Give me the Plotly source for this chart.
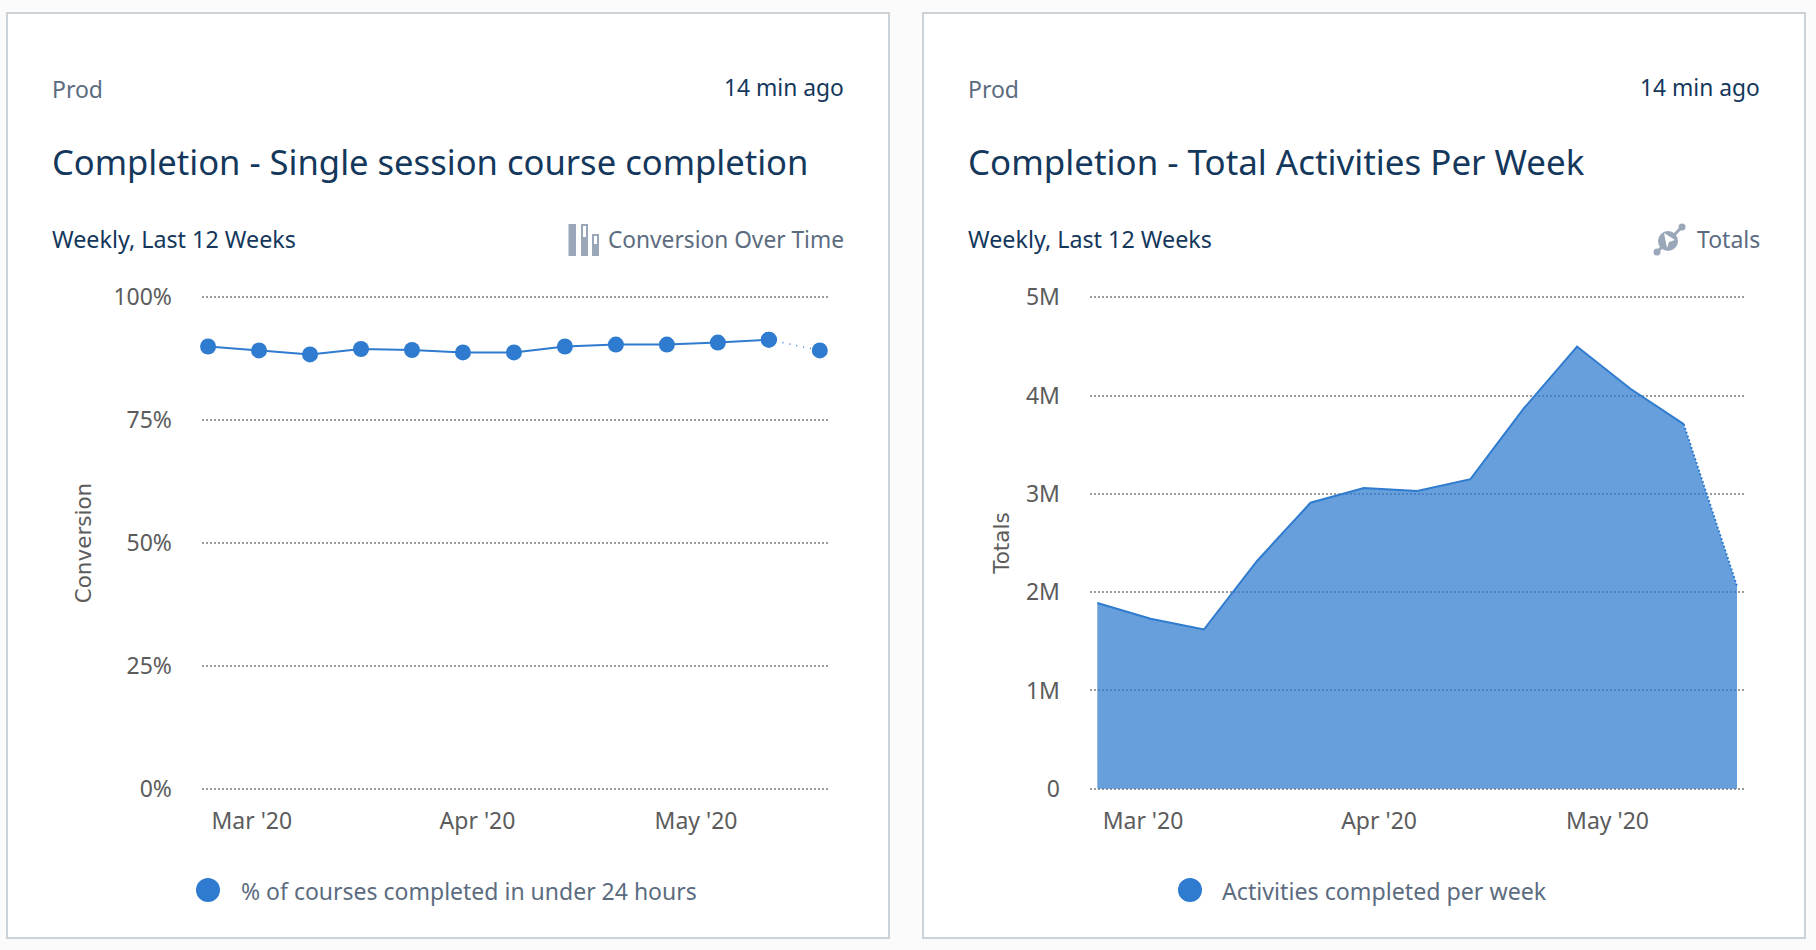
import plotly.graph_objects as go

W, H = 1816, 950
FONT = "Noto Sans"

weeks = ["2020-02-24", "2020-03-02", "2020-03-09", "2020-03-16", "2020-03-23", "2020-03-30", "2020-04-06",
         "2020-04-13", "2020-04-20", "2020-04-27", "2020-05-04", "2020-05-11", "2020-05-18"]
conversion = [90.0, 89.2, 88.4, 89.5, 89.3, 88.8, 88.8, 90.0, 90.4, 90.4, 90.8, 91.4, 89.2]
totals = [1.89e6, 1.73e6, 1.62e6, 2.32e6, 2.91e6, 3.06e6, 3.03e6, 3.15e6, 3.87e6, 4.50e6, 4.07e6, 3.71e6, 2.06e6]
month_ticks = ["2020-03-01", "2020-04-01", "2020-05-01"]
month_labels = ["Mar '20", "Apr '20", "May '20"]
conv_ticks = [0, 25, 50, 75, 100]
conv_labels = ["0%", "25%", "50%", "75%", "100%"]
total_ticks = [0, 1e6, 2e6, 3e6, 4e6, 5e6]
total_labels = ["0", "1M", "2M", "3M", "4M", "5M"]

BLUE = "#2f7bcf"
FILL = "rgba(47,123,207,0.73)"
GRID = "#9a9a9a"
TICK = "#5c5c5c"
NAVY = "#14375c"
SLATE = "#5c6c80"
ICON = "#9aa7b9"
GRIDDASH = "2px,2px"
Y_TOP, Y_BOTTOM, PAD = 297.4, 788.7, 3

def px(x):
    return x / W

def py(y):
    return 1 - y / H

fig = go.Figure()

# left chart
fig.add_trace(go.Scatter(x=weeks[:12], y=conversion[:12], mode="lines+markers", xaxis="x", yaxis="y", cliponaxis=False,
                         line=dict(color=BLUE, width=2), marker=dict(color=BLUE, size=16), showlegend=False))
fig.add_trace(go.Scatter(x=weeks[11:], y=conversion[11:], mode="lines+markers", xaxis="x", yaxis="y", cliponaxis=False,
                         line=dict(color=BLUE, width=1.5, dash="1px,6px"), marker=dict(color=BLUE, size=16), showlegend=False))
# right chart
fig.add_trace(go.Scatter(x=weeks, y=totals, mode="none", xaxis="x2", yaxis="y2", fill="tozeroy",
                         fillcolor=FILL, showlegend=False))
fig.add_trace(go.Scatter(x=weeks[:12], y=totals[:12], mode="lines", xaxis="x2", yaxis="y2",
                         line=dict(color=BLUE, width=2), showlegend=False))
fig.add_trace(go.Scatter(x=weeks[11:], y=totals[11:], mode="lines", xaxis="x2", yaxis="y2",
                         line=dict(color=BLUE, width=2, dash="2px,2px"), showlegend=False))

def xaxis(left, right):
    return dict(domain=[px(left), px(right)], tickvals=month_ticks, ticktext=month_labels, showgrid=False,
                automargin=False, zeroline=False, showline=False, ticks="",
                tickfont=dict(family=FONT, size=23, color=TICK), ticklabelstandoff=13)

def yaxis(anchor, vals, labels, top, title, standoff):
    per_px = top / (Y_BOTTOM - Y_TOP)
    return dict(domain=[py(Y_BOTTOM + PAD), py(Y_TOP - PAD)], range=[-PAD * per_px, top + PAD * per_px],
                tickvals=vals, ticktext=labels, anchor=anchor, automargin=False,
                showgrid=True, gridcolor=GRID, griddash=GRIDDASH, gridwidth=2, zeroline=False, showline=False, ticks="",
                tickfont=dict(family=FONT, size=23, color=TICK), ticklabelstandoff=29,
                title=dict(text=title, font=dict(family="DejaVu Sans", size=21.5, color=TICK), standoff=standoff))

fig.update_layout(
    width=W, height=H, autosize=False, margin=dict(l=0, r=0, t=0, b=0),
    paper_bgcolor="#fbfbfc", plot_bgcolor="rgba(0,0,0,0)",
    xaxis=dict(xaxis(202, 828), anchor="y", range=["2020-02-23 04:00", "2020-05-19 03:00"]),
    yaxis=yaxis("x", conv_ticks, conv_labels, 100, "Conversion", 15),
    xaxis2=dict(xaxis(1090, 1744), anchor="y2", range=["2020-02-23 01:00", "2020-05-18 22:00"]),
    yaxis2=yaxis("x2", total_ticks, total_labels, 5e6, "Totals", 10),
)

shapes = []

def rect(x0, y0, x1, y1, fill, line=None, w=0):
    shapes.append(dict(type="rect", xref="paper", yref="paper", x0=px(x0), x1=px(x1), y0=py(y0), y1=py(y1),
                       fillcolor=fill, line=dict(color=line or fill, width=w), layer="below"))

def circle(cx, cy, r, fill):
    shapes.append(dict(type="circle", xref="paper", yref="paper", x0=px(cx - r), x1=px(cx + r), y0=py(cy - r),
                       y1=py(cy + r), fillcolor=fill, line=dict(width=0), layer="above"))

def seg(x0, y0, x1, y1, color, w):
    shapes.append(dict(type="line", xref="paper", yref="paper", x0=px(x0), x1=px(x1), y0=py(y0), y1=py(y1),
                       line=dict(color=color, width=w), layer="above"))

# cards
rect(7, 13, 889, 938, "#ffffff", "#cbd2d8", 2)
rect(923, 13, 1805, 938, "#ffffff", "#cbd2d8", 2)

# conversion icon
rect(568.5, 224, 576, 256, ICON)
rect(581, 224, 588, 256, ICON)
rect(583, 226, 586, 237, "#ffffff")
rect(592, 234, 599, 256, ICON)
rect(594, 236, 597, 244, "#ffffff")

# totals icon
seg(1657, 252, 1682, 227, ICON, 3)
circle(1657, 252, 3.5, ICON)
circle(1682, 227, 3.5, ICON)
circle(1668, 241, 10, ICON)
shapes.append(dict(type="path", xref="paper", yref="paper", layer="above", fillcolor="#ffffff", line=dict(width=0),
                   path="M {} {} L {} {} L {} {} L {} {} Z".format(px(1664), py(233), px(1675), py(240),
                                                                  px(1669), py(242), px(1667), py(248))))

# legend dots
circle(208, 890, 12, BLUE)
circle(1190, 890, 12, BLUE)

annotations = []

def text(x, y, s, size, color, anchor="left"):
    annotations.append(dict(xref="paper", yref="paper", x=px(x), y=py(y), text=s, showarrow=False, xanchor=anchor,
                            yanchor="middle", borderpad=0, borderwidth=0,
                            font=dict(family=FONT, size=size, color=color)))

for left, right, title, title_size, sub, kind, kind_size in [
    (52, 844, "Completion - Single session course completion", 34.6, "Weekly, Last 12 Weeks", "Conversion Over Time", 22.7),
    (967.5, 1760, "Completion - Total Activities Per Week", 34.9, "Weekly, Last 12 Weeks", "Totals", 23),
]:
    text(left, 89, "Prod", 23, SLATE)
    text(right, 87, "14 min ago", 22.8, NAVY, "right")
    text(left, 161, title, title_size, NAVY)
    text(left, 239, sub, 23.3, NAVY)
    text(right, 239, kind, kind_size, SLATE, "right")

text(241, 891, "% of courses completed in under 24 hours", 23, SLATE)
text(1222, 891, "Activities completed per week", 23.2, SLATE)

fig.update_layout(shapes=shapes, annotations=annotations)

fig.write_html("out.html", config={"displayModeBar": False},
               post_script="document.body.style.margin='0';document.body.style.overflow='hidden';")
